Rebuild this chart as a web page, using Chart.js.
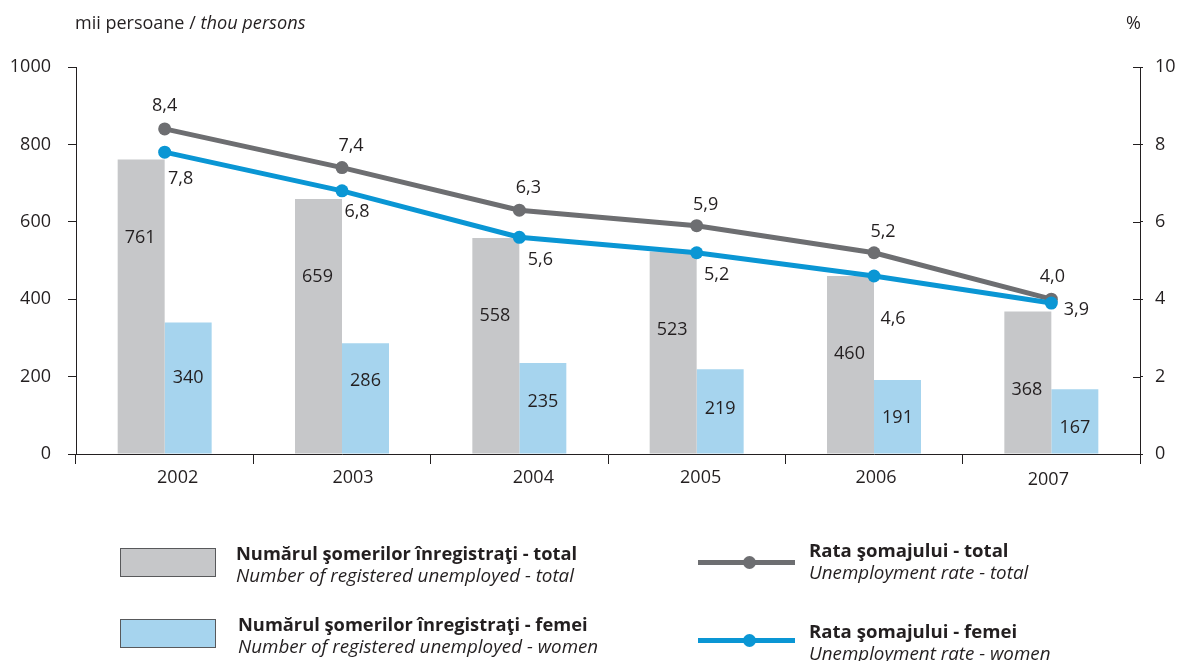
<!DOCTYPE html>
<html>
<head>
<meta charset="utf-8">
<script src="https://cdn.jsdelivr.net/npm/chart.js@4/dist/chart.umd.min.js"></script>
<style>
  html, body { margin: 0; padding: 0; background: #fff; }
  #wrap { position: relative; width: 1180px; height: 661px; overflow: hidden; font-family: "Open Sans", sans-serif; color: #231f20; }
  canvas { position: absolute; left: 0; top: 0; }
  .t { position: absolute; white-space: nowrap; font-size: 18px; line-height: 20px; }
  .b { font-weight: 700; font-size: 18.3px; }
  .i { font-style: italic; font-size: 18.8px; }
  .sw { position: absolute; width: 96px; height: 29px; box-sizing: border-box; border: 1px solid #58595b; }
  .ln { position: absolute; width: 97px; height: 5px; }
  .dot { position: absolute; width: 13px; height: 13px; border-radius: 50%; }
</style>
</head>
<body>
<div id="wrap">
  <canvas id="c" width="1180" height="661"></canvas>
  <div class="t" style="left:75px;top:12px;">mii persoane / <i style="font-size:18.2px">thou persons</i></div>
  <div class="t" style="left:1126px;top:12px;">%</div>

  <div class="sw" style="left:120px;top:548px;background:#c6c7c9;"></div>
  <div class="t b" style="left:236px;top:543px;">Numărul şomerilor înregistraţi - total</div>
  <div class="t i" style="left:236px;top:565px;">Number of registered unemployed - total</div>

  <div class="sw" style="left:120px;top:619px;background:#a6d4ee;"></div>
  <div class="t b" style="left:238px;top:614px;">Numărul şomerilor înregistraţi - femei</div>
  <div class="t i" style="left:238px;top:636px;">Number of registered unemployed - women</div>

  <div class="ln" style="left:698px;top:560px;background:#6d6e71;"></div>
  <div class="dot" style="left:743px;top:556px;background:#6d6e71;"></div>
  <div class="t b" style="left:809px;top:540px;font-size:18.6px;">Rata şomajului - total</div>
  <div class="t i" style="left:809px;top:562px;">Unemployment rate - total</div>

  <div class="ln" style="left:698px;top:638px;background:#0a96d4;"></div>
  <div class="dot" style="left:743px;top:634px;background:#0a96d4;"></div>
  <div class="t b" style="left:809px;top:621px;font-size:18.6px;">Rata şomajului - femei</div>
  <div class="t i" style="left:809px;top:643px;">Unemployment rate - women</div>
</div>
<script>
const years = ["2002", "2003", "2004", "2005", "2006", "2007"];
const unemployedTotal = [761, 659, 558, 523, 460, 368];
const unemployedWomen = [340, 286, 235, 219, 191, 167];
const rateTotal = [8.4, 7.4, 6.3, 5.9, 5.2, 4.0];
const rateWomen = [7.8, 6.8, 5.6, 5.2, 4.6, 3.9];
const leftTicks = [0, 200, 400, 600, 800, 1000];
const rightTicks = [0, 2, 4, 6, 8, 10];

const FONT = '"Open Sans", sans-serif';
const TXT = '#231f20';

// label offsets relative to the drawn mark (pixel styling, not data)
const labelOffsets = {
  0: years.map(() => [-1, 78]),
  1: [[0, 55], [0, 38], [0, 39], [0, 40], [0, 38], [0, 39]],
  2: [[0, -23], [9, -22], [9, -22], [9, -21], [9, -21], [1, -22]],
  3: [[16, 27], [15, 21], [21, 23], [20, 22], [19, 43], [25, 7]]
};
// horizontal nudges of the category labels, as placed in the source layout
const xLabelNudge = [[13, 24], [11, 24], [14, 24], [4, 24], [2, 24], [-3, 26]];

const fmt = v => v.toFixed(1).replace('.', ',');

const labelPlugin = {
  id: 'vlabels',
  afterDatasetsDraw(chart) {
    const ctx = chart.ctx;
    ctx.save();
    ctx.font = '18px ' + FONT;
    ctx.fillStyle = TXT;
    ctx.textAlign = 'center';
    ctx.textBaseline = 'middle';
    chart.data.datasets.forEach((ds, di) => {
      const meta = chart.getDatasetMeta(di);
      meta.data.forEach((el, i) => {
        const off = labelOffsets[di][i];
        const v = ds.data[i];
        const txt = di < 2 ? String(v) : fmt(v);
        ctx.fillText(txt, el.x + off[0], el.y + off[1]);
      });
    });
    // category labels
    const xs = chart.scales.x;
    years.forEach((y, i) => {
      const px = xs.getPixelForTick(i);
      ctx.fillText(y, px + xLabelNudge[i][0], xs.top + xLabelNudge[i][1]);
    });
    // inner part of right-axis tick marks
    const y1 = chart.scales.y1;
    ctx.strokeStyle = TXT;
    ctx.lineWidth = 1;
    y1.ticks.forEach(t => {
      const py = Math.round(y1.getPixelForValue(t.value)) + 0.5;
      ctx.beginPath();
      ctx.moveTo(y1.left - 7, py);
      ctx.lineTo(y1.left, py);
      ctx.stroke();
    });
    ctx.restore();
  }
};

new Chart(document.getElementById('c'), {
  data: {
    labels: years,
    datasets: [
      { type: 'bar', data: unemployedTotal, backgroundColor: '#c6c7c9', yAxisID: 'y', order: 2,
        categoryPercentage: 0.53, barPercentage: 1 },
      { type: 'bar', data: unemployedWomen, backgroundColor: '#a6d4ee', yAxisID: 'y', order: 2,
        categoryPercentage: 0.53, barPercentage: 1 },
      { type: 'line', data: rateTotal, borderColor: '#6d6e71', backgroundColor: '#6d6e71', borderWidth: 5,
        pointRadius: 6.5, pointHoverRadius: 6.5, pointBorderWidth: 0, yAxisID: 'y1', order: 1, tension: 0 },
      { type: 'line', data: rateWomen, borderColor: '#0a96d4', backgroundColor: '#0a96d4', borderWidth: 5,
        pointRadius: 6.5, pointHoverRadius: 6.5, pointBorderWidth: 0, yAxisID: 'y1', order: 0, tension: 0 }
    ]
  },
  options: {
    responsive: false,
    animation: false,
    events: [],
    layout: { padding: { top: 67, left: 0, right: 0, bottom: 0 } },
    plugins: { legend: { display: false }, tooltip: { enabled: false } },
    scales: {
      x: {
        afterFit(s) { s.height = 207; },
        grid: { offset: true, drawOnChartArea: false, drawTicks: true, tickLength: 10, color: TXT },
        border: { display: true, color: TXT, width: 1 },
        ticks: { display: false }
      },
      y: {
        position: 'left', min: 0, max: 1000,
        afterFit(s) { s.width = 76; },
        afterBuildTicks(s) { s.ticks = leftTicks.map(v => ({ value: v })); },
        grid: { drawOnChartArea: false, drawTicks: true, tickLength: 8, color: TXT },
        border: { display: true, color: TXT, width: 1 },
        ticks: { color: TXT, font: { family: FONT, size: 18 }, padding: 17, callback: v => String(v) }
      },
      y1: {
        position: 'right', min: 0, max: 10,
        afterFit(s) { s.width = 40; },
        afterBuildTicks(s) { s.ticks = rightTicks.map(v => ({ value: v })); },
        grid: { drawOnChartArea: false, drawTicks: true, tickLength: 3, color: TXT },
        border: { display: true, color: TXT, width: 1 },
        ticks: { color: TXT, font: { family: FONT, size: 18 }, padding: 12, callback: v => String(v) }
      }
    }
  },
  plugins: [labelPlugin]
});
</script>
</body>
</html>
